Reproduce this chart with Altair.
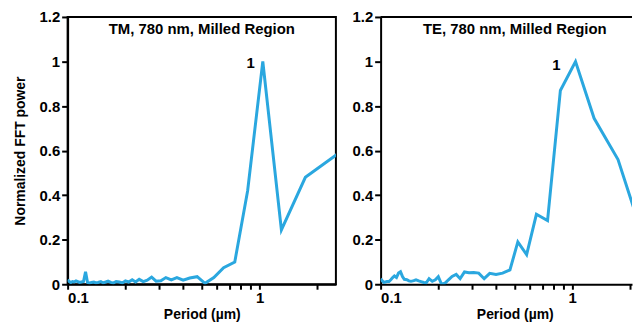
import altair as alt
import pandas as pd

periods = [0.100, 0.102, 0.104, 0.106, 0.108, 0.1106, 0.113, 0.1156, 0.118, 0.121,
           0.124, 0.127, 0.130, 0.133, 0.137, 0.1405, 0.144, 0.149, 0.153, 0.158,
           0.1625, 0.168, 0.173, 0.179, 0.186, 0.193, 0.200, 0.208, 0.217, 0.226,
           0.236, 0.248, 0.260, 0.274, 0.289, 0.306, 0.325, 0.347, 0.371, 0.400,
           0.433, 0.473, 0.520, 0.578, 0.650, 0.743, 0.867, 1.040, 1.300, 1.733, 2.600]

tm_power = [0.020, 0.012, 0.008, 0.012, 0.010, 0.015, 0.012, 0.008, 0.010, 0.012,
            0.056, 0.008, 0.005, 0.008, 0.010, 0.006, 0.008, 0.012, 0.006, 0.010,
            0.014, 0.008, 0.005, 0.012, 0.010, 0.006, 0.015, 0.010, 0.020, 0.010,
            0.022, 0.012, 0.018, 0.032, 0.014, 0.016, 0.030, 0.020, 0.030, 0.018,
            0.028, 0.034, 0.004, 0.030, 0.074, 0.100, 0.420, 1.000, 0.244, 0.480, 0.590]

te_power = [0.025, 0.015, 0.008, 0.010, 0.012, 0.012, 0.020, 0.030, 0.037, 0.030,
            0.050, 0.056, 0.035, 0.022, 0.020, 0.015, 0.013, 0.016, 0.020, 0.015,
            0.012, 0.008, 0.006, 0.025, 0.013, 0.020, 0.034, 0.000, 0.005, 0.020,
            0.035, 0.044, 0.025, 0.055, 0.052, 0.053, 0.050, 0.025, 0.049, 0.044,
            0.050, 0.064, 0.190, 0.133, 0.314, 0.286, 0.870, 1.000, 0.745, 0.560, 0.090]

panel_titles = ["TM, 780 nm, Milled Region", "TE, 780 nm, Milled Region"]
peak_labels = ["1", "1"]
peak_periods = [1.040, 1.040]
peak_values = [1.000, 1.000]
x_ticks = [0.1, 0.2, 0.3, 0.4, 0.5, 0.6, 0.7, 0.8, 0.9, 1, 2]
y_ticks = [0, 0.2, 0.4, 0.6, 0.8, 1.0, 1.2]
x_domains = [[0.1, 2.5], [0.1, 2.05]]
panel_widths = [270, 253]
PANEL_H = 269

FONT = "Liberation Sans"
BLUE = "#2aa7df"

df = pd.DataFrame({"period": periods, "TM": tm_power, "TE": te_power})


def panel(col, idx, show_ytitle, label_dx, label_dy, framed):
    xscale = alt.Scale(type="log", domain=x_domains[idx], nice=False)
    yscale = alt.Scale(domain=[0, 1.2], nice=False)
    xenc = alt.X(
        "period:Q",
        scale=xscale,
        axis=alt.Axis(
            title="Period (µm)",
            values=x_ticks,
            format="~g",
            titleX=135,
            labelExpr="(datum.value == 0.1 || datum.value == 1) ? datum.label : ''",
        ),
    )
    yenc = alt.Y(
        f"{col}:Q",
        scale=yscale,
        axis=alt.Axis(
            title="Normalized FFT power" if show_ytitle else "",
            values=y_ticks,
            format="~g",
        ),
    )
    line = alt.Chart(df).mark_line(color=BLUE, strokeWidth=3, clip=True).encode(x=xenc, y=yenc)

    tdf = pd.DataFrame({"t": [panel_titles[idx]]})
    title = alt.Chart(tdf).mark_text(
        font=FONT, fontSize=15, fontWeight="bold", color="black", baseline="middle"
    ).encode(x=alt.value(135), y=alt.value(12), text="t:N")

    ldf = pd.DataFrame({"p": [peak_periods[idx]], "v": [peak_values[idx]], "t": [peak_labels[idx]]})
    lab = alt.Chart(ldf).mark_text(
        font=FONT, fontSize=15, fontWeight="bold", color="black", align="right",
        baseline="middle", dx=label_dx, dy=label_dy,
    ).encode(
        x=alt.X("p:Q", scale=xscale),
        y=alt.Y("v:Q", scale=yscale),
        text="t:N",
    )
    layers = [line, lab, title]
    if not framed:
        top = alt.Chart(tdf).mark_rule(color="black", strokeWidth=2).encode(
            x=alt.value(0), x2=alt.value(panel_widths[idx]), y=alt.value(0)
        )
        layers.append(top)
    ch = alt.layer(*layers).properties(width=panel_widths[idx], height=PANEL_H)
    if not framed:
        ch = ch.properties(view=alt.ViewBackground(stroke="transparent", strokeWidth=0))
    return ch


left = panel("TM", 0, True, -8, 2, True)
right = panel("TE", 1, False, -15, 4, False)

chart = alt.hconcat(left, right, spacing=15).properties(
    padding={"left": 4, "top": 0, "right": 0, "bottom": 0}
).configure_view(
    stroke="black", strokeWidth=2
).configure_axis(
    grid=False,
    domainColor="black",
    domainWidth=2,
    tickColor="black",
    tickWidth=2,
    labelFont=FONT,
    labelFontSize=15,
    labelFontWeight="bold",
    labelColor="black",
    titleFont=FONT,
    titleFontWeight="bold",
    titleColor="black",
).configure_axisY(
    titlePadding=12,
    titleFontSize=14,
    tickSize=6,
    labelPadding=2,
).configure_axisX(
    titlePadding=2,
    titleFontSize=14,
    tickSize=5,
    labelPadding=1,
)

chart.save("out.html", embed_options={"renderer": "svg", "actions": False})
